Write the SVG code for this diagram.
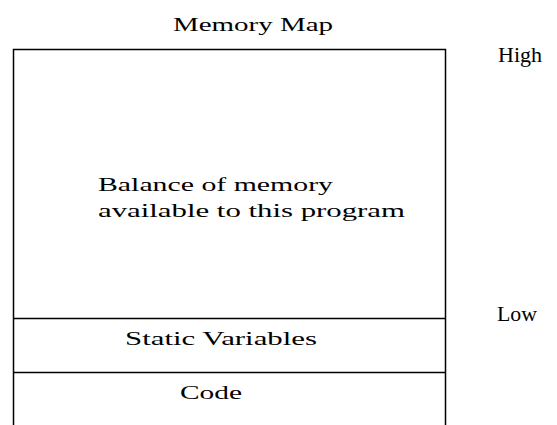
<svg xmlns="http://www.w3.org/2000/svg" width="557" height="425" viewBox="0 0 557 425">
<style>
text{font-family:"Liberation Serif","Times New Roman",serif;fill:#000;font-size:19px}
.side{font-size:22px}
.ln{stroke:#000;stroke-width:1.5;fill:none}
</style>
<rect width="557" height="425" fill="#fff"/>
<g id="title"><text x="253" y="31" text-anchor="middle" textLength="160" lengthAdjust="spacingAndGlyphs">Memory Map</text></g>
<g id="connectors">
<path class="ln" d="M13.5,425 V49.5 H445.5 V425"/>
</g>
<g id="balance">
<text x="98" y="191" textLength="235" lengthAdjust="spacingAndGlyphs">Balance of memory</text>
<text x="98" y="217" textLength="307" lengthAdjust="spacingAndGlyphs">available to this program</text>
</g>
<g id="static">
<path class="ln" d="M13.5,318.5 H445.5"/>
<text x="125" y="345" textLength="192" lengthAdjust="spacingAndGlyphs">Static Variables</text>
</g>
<g id="code">
<path class="ln" d="M13.5,372.5 H445.5"/>
<text x="180" y="399" textLength="62" lengthAdjust="spacingAndGlyphs">Code</text>
</g>
<g id="high"><text class="side" x="498" y="62" textLength="44" lengthAdjust="spacingAndGlyphs">High</text></g>
<g id="low"><text class="side" x="497" y="321" textLength="40" lengthAdjust="spacingAndGlyphs">Low</text></g>
</svg>
